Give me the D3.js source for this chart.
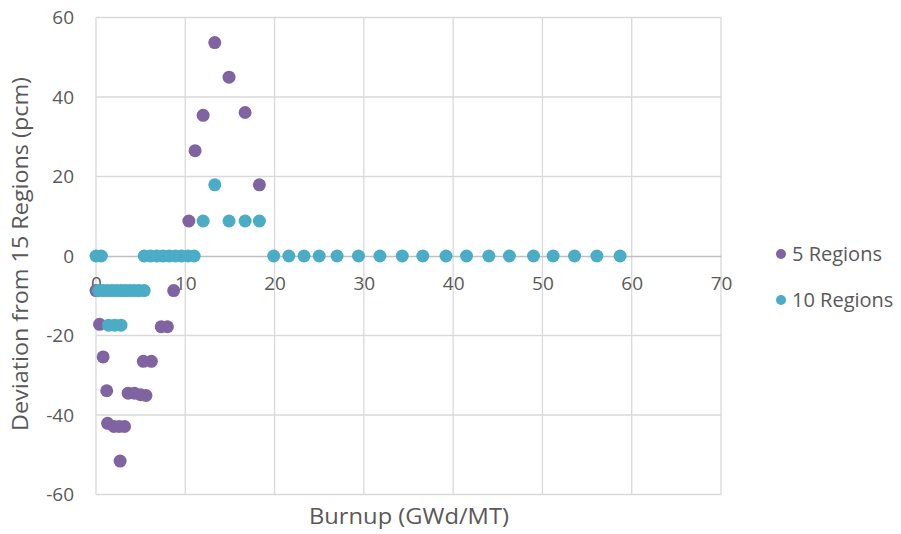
<!DOCTYPE html>
<html>
<head>
<meta charset="utf-8">
<script src="https://cdnjs.cloudflare.com/ajax/libs/d3/7.8.5/d3.min.js"></script>
<style>
  body { margin: 0; background: #fff; }
  text { font-family: "Open Sans", "Noto Sans", sans-serif; fill: #595959; }
</style>
</head>
<body>
<div id="chart"></div>
<script>
// 5 Regions series
var burnup5 = [0.0, 0.4, 0.8, 1.2, 1.3, 2.0, 2.6, 3.2, 2.7, 3.6, 4.3, 5.0, 5.6, 5.3, 6.2, 7.3, 8.0, 8.7,
               10.4, 11.1, 12.0, 13.3, 14.9, 16.7, 18.3];
var dev5 = [-8.7, -17.2, -25.4, -33.9, -42.1, -42.9, -42.9, -42.9, -51.6, -34.5, -34.5, -34.9, -35.1, -26.5, -26.5, -17.8, -17.8, -8.7,
            8.8, 26.5, 35.4, 53.7, 45.0, 36.1, 17.9];

// 10 Regions series
var burnup10 = [0.0, 0.6, 5.4, 6.1, 6.8, 7.5, 8.2, 8.9, 9.6, 10.3, 11.0,
                19.9, 21.6, 23.3, 25.0, 27.0, 29.4, 31.8, 34.3, 36.6, 39.2, 41.5, 44.0, 46.3, 49.0, 51.2, 53.6, 56.1, 58.7,
                0.3, 0.8, 1.3, 1.8, 2.3, 2.8, 3.3, 3.8, 4.3, 4.8, 5.4,
                1.4, 2.1, 2.8,
                12.0, 13.3, 14.9, 16.7, 18.3];
var dev10 = [0, 0, 0, 0, 0, 0, 0, 0, 0, 0, 0,
             0, 0, 0, 0, 0, 0, 0, 0, 0, 0, 0, 0, 0, 0, 0, 0, 0, 0,
             -8.7, -8.7, -8.7, -8.7, -8.7, -8.7, -8.7, -8.7, -8.7, -8.7, -8.7,
             -17.4, -17.4, -17.4,
             8.8, 17.9, 8.8, 8.8, 8.8];

var seriesNames = ["5 Regions", "10 Regions"];
var seriesColors = ["#8064A2", "#4BACC6"];
var xTicks = [0, 10, 20, 30, 40, 50, 60, 70];
var yTicks = [-60, -40, -20, 0, 20, 40, 60];

var svgWidth = 901, svgHeight = 534;
var margin = { top: 17.5, right: 180, bottom: 39.5, left: 96 };
var chartWidth = svgWidth - margin.left - margin.right;
var chartHeight = svgHeight - margin.top - margin.bottom;

var svg = d3.select("#chart").append("svg")
  .attr("width", svgWidth)
  .attr("height", svgHeight);

var chartGroup = svg.append("g")
  .attr("transform", `translate(${margin.left}, ${margin.top})`);

var x = d3.scaleLinear().domain([0, 70]).range([0, chartWidth]);
var y = d3.scaleLinear().domain([-60, 60]).range([chartHeight, 0]);

// gridlines
chartGroup.append("g")
  .selectAll("line.vgrid")
  .data(xTicks)
  .enter()
  .append("line")
  .attr("x1", d => x(d)).attr("x2", d => x(d))
  .attr("y1", 0).attr("y2", chartHeight)
  .attr("stroke", "#d9d9d9")
  .attr("stroke-width", 1.3);

chartGroup.append("g")
  .selectAll("line.hgrid")
  .data(yTicks.filter(d => d !== 0))
  .enter()
  .append("line")
  .attr("x1", 0).attr("x2", chartWidth)
  .attr("y1", d => y(d)).attr("y2", d => y(d))
  .attr("stroke", "#d9d9d9")
  .attr("stroke-width", 1.3);

// horizontal axis sits at zero; plain hyphen for negatives
var fmt = d => String(d);

var xAxis = d3.axisBottom(x).tickValues(xTicks).tickFormat(fmt).tickSize(0).tickPadding(21);
var gx = chartGroup.append("g")
  .attr("transform", `translate(0, ${y(0)})`)
  .call(xAxis);
gx.select(".domain").attr("stroke", "#bfbfbf").attr("stroke-width", 1.3);
gx.selectAll("text").style("font-size", "19px").attr("fill", "#595959");

var yAxis = d3.axisLeft(y).tickValues(yTicks).tickFormat(fmt).tickSize(0).tickPadding(22);
var gy = chartGroup.append("g").call(yAxis);
gy.select(".domain").remove();
gy.selectAll("text").style("font-size", "19px").attr("fill", "#595959");

// points
var series = [
  { name: seriesNames[0], xs: burnup5, ys: dev5, color: seriesColors[0] },
  { name: seriesNames[1], xs: burnup10, ys: dev10, color: seriesColors[1] }
];

series.forEach(function(s) {
  chartGroup.append("g")
    .selectAll("circle")
    .data(d3.range(s.xs.length))
    .enter()
    .append("circle")
    .attr("cx", i => x(s.xs[i]))
    .attr("cy", i => y(s.ys[i]))
    .attr("r", 6.5)
    .attr("fill", s.color);
});

// axis titles
svg.append("text")
  .attr("text-anchor", "middle")
  .attr("x", 409)
  .attr("y", 524)
  .attr("textLength", 200)
  .attr("lengthAdjust", "spacingAndGlyphs")
  .style("font-size", "21px")
  .text("Burnup (GWd/MT)");

svg.append("text")
  .attr("text-anchor", "middle")
  .attr("transform", "rotate(-90)")
  .attr("x", -254)
  .attr("y", 28)
  .attr("textLength", 354)
  .attr("lengthAdjust", "spacingAndGlyphs")
  .style("font-size", "21px")
  .text("Deviation from 15 Regions (pcm)");

// legend
var legend = svg.append("g")
  .selectAll("g")
  .data(series)
  .enter()
  .append("g")
  .attr("transform", (d, i) => `translate(781, ${254 + i * 46})`);

legend.append("circle").attr("r", 5).attr("fill", d => d.color);
legend.append("text")
  .attr("x", 11)
  .attr("y", 6.5)
  .style("font-size", "20px")
  .text(d => d.name);
</script>
</body>
</html>
